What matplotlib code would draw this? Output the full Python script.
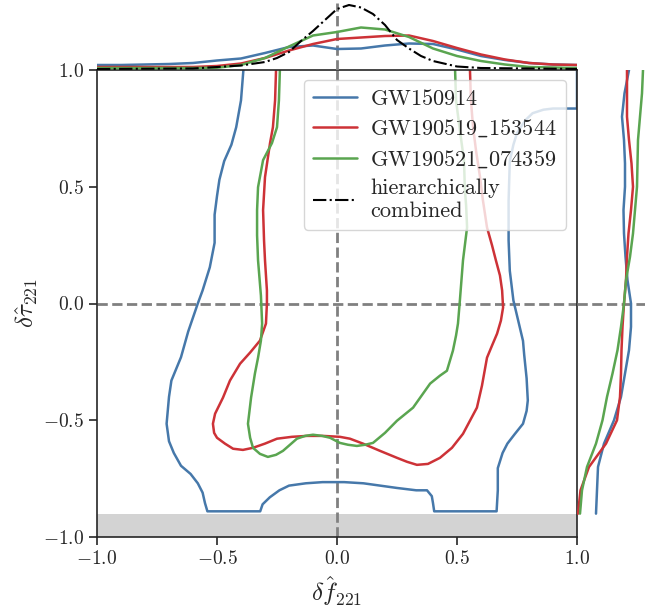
import numpy as np
import matplotlib
matplotlib.use("Agg")
import matplotlib.pyplot as plt

plt.rcParams["font.family"] = "serif"
plt.rcParams["font.serif"] = ["cmr10", "DejaVu Serif"]
plt.rcParams["mathtext.fontset"] = "cm"
plt.rcParams["axes.formatter.use_mathtext"] = True

# colours of the three events + combined
c_blue = "#4678aa"
c_red = "#cd3237"
c_green = "#5aa550"

labels = [r"$\mathrm{GW150914}$",
          r"$\mathrm{GW190519\_153544}$",
          r"$\mathrm{GW190521\_074359}$"]
comb_label = "hierarchically\ncombined"

# 90% contours (df, dtau)
gw150914_f = [-0.39, -0.40, -0.42, -0.44, -0.47, -0.49, -0.50, -0.51, -0.51, -0.53,
              -0.56, -0.58, -0.62, -0.65, -0.69, -0.70, -0.71, -0.70, -0.68, -0.65,
              -0.61, -0.58, -0.56, -0.55, -0.54, -0.32, -0.31, -0.28, -0.24, -0.20,
              -0.13, -0.06, 0.03, 0.11, 0.18, 0.25, 0.33, 0.375, 0.395, 0.40,
              0.405, 0.665, 0.67, 0.67, 0.69, 0.71, 0.74, 0.775, 0.79, 0.795,
              0.79, 0.78, 0.775, 0.76, 0.745, 0.735, 0.72, 0.715, 0.715, 0.72,
              0.735, 0.75, 0.785, 0.815, 0.86, 0.90, 0.95, 1.0, 1.0]
gw150914_t = [1.0, 0.87, 0.755, 0.68, 0.61, 0.53, 0.46, 0.38, 0.26, 0.155,
              0.056, 0.0, -0.12, -0.23, -0.33, -0.40, -0.515, -0.59, -0.64, -0.695,
              -0.73, -0.77, -0.81, -0.855, -0.89, -0.89, -0.86, -0.83, -0.80, -0.78,
              -0.77, -0.765, -0.765, -0.77, -0.78, -0.79, -0.80, -0.80, -0.825, -0.855,
              -0.89, -0.89, -0.80, -0.705, -0.64, -0.60, -0.56, -0.515, -0.46, -0.415,
              -0.32, -0.22, -0.16, -0.095, -0.03, 0.013, 0.14, 0.27, 0.44, 0.61,
              0.68, 0.73, 0.785, 0.815, 0.83, 0.835, 0.835, 0.835, 1.0]

gw190519_f = [-0.254, -0.258, -0.267, -0.279, -0.30, -0.308, -0.304, -0.30, -0.292, -0.292,
              -0.296, -0.321, -0.362, -0.404, -0.446, -0.475, -0.508, -0.517, -0.512, -0.50,
              -0.467, -0.433, -0.392, -0.35, -0.30, -0.25, -0.188, -0.125, -0.058, 0.012,
              0.054, 0.108, 0.179, 0.25, 0.292, 0.333, 0.379, 0.429, 0.479, 0.525,
              0.554, 0.583, 0.604, 0.625, 0.646, 0.667, 0.683, 0.692, 0.688, 0.679,
              0.662, 0.646, 0.625, 0.608, 0.596, 0.579, 0.567, 0.558, 0.554]
gw190519_t = [1.0, 0.87, 0.755, 0.687, 0.541, 0.40, 0.27, 0.185, 0.056, 0.0,
              -0.086, -0.159, -0.21, -0.258, -0.33, -0.403, -0.472, -0.515, -0.554, -0.575,
              -0.60, -0.622, -0.627, -0.618, -0.60, -0.579, -0.571, -0.567, -0.567, -0.571,
              -0.579, -0.60, -0.631, -0.661, -0.678, -0.691, -0.687, -0.661, -0.618, -0.558,
              -0.502, -0.446, -0.352, -0.232, -0.18, -0.129, -0.073, -0.017, 0.056, 0.12,
              0.185, 0.249, 0.326, 0.442, 0.541, 0.657, 0.755, 0.87, 1.0]

gw190521_f = [-0.238, -0.242, -0.25, -0.271, -0.308, -0.329, -0.333, -0.333, -0.329, -0.317,
              -0.312, -0.317, -0.329, -0.342, -0.358, -0.371, -0.362, -0.35, -0.321, -0.288,
              -0.254, -0.225, -0.196, -0.167, -0.133, -0.10, -0.062, -0.029, 0.012, 0.046,
              0.083, 0.117, 0.15, 0.20, 0.25, 0.317, 0.388, 0.429, 0.458, 0.483,
              0.496, 0.504, 0.512, 0.525, 0.542, 0.538, 0.533, 0.529, 0.512, 0.496, 0.492]
gw190521_t = [1.0, 0.87, 0.755, 0.687, 0.614, 0.498, 0.40, 0.292, 0.185, 0.034,
              -0.086, -0.159, -0.232, -0.30, -0.403, -0.515, -0.575, -0.618, -0.644, -0.657,
              -0.648, -0.631, -0.605, -0.579, -0.567, -0.562, -0.567, -0.575, -0.597, -0.605,
              -0.61, -0.605, -0.597, -0.554, -0.502, -0.446, -0.343, -0.309, -0.288, -0.202,
              -0.137, -0.086, 0.013, 0.185, 0.326, 0.42, 0.485, 0.614, 0.742, 0.87, 1.0]

# marginal posteriors on df
f_grid = [-1.0, -0.9, -0.8, -0.7, -0.6, -0.5, -0.4, -0.3, -0.2, -0.1, 0.0,
          0.1, 0.2, 0.3, 0.4, 0.5, 0.6, 0.7, 0.8, 0.9, 1.0]
pf_150914 = [0.16, 0.16, 0.18, 0.20, 0.24, 0.34, 0.42, 0.64, 0.88, 0.94, 0.80,
             0.82, 0.94, 1.02, 1.00, 0.78, 0.52, 0.36, 0.24, 0.18, 0.16]
pf_190519 = [0.08, 0.08, 0.08, 0.08, 0.08, 0.12, 0.22, 0.44, 0.74, 1.00, 1.20,
             1.26, 1.32, 1.34, 1.12, 0.84, 0.58, 0.38, 0.24, 0.18, 0.16]
pf_190521 = [0.04, 0.04, 0.04, 0.04, 0.04, 0.05, 0.16, 0.44, 0.90, 1.34, 1.48,
             1.66, 1.58, 1.28, 0.82, 0.52, 0.32, 0.18, 0.08, 0.06, 0.04]
f_comb = [-1.0, -0.6, -0.4, -0.3, -0.25, -0.2, -0.15, -0.1, -0.05, 0.0, 0.05,
          0.1, 0.15, 0.2, 0.25, 0.3, 0.35, 0.4, 0.5, 0.6, 1.0]
pf_comb = [0.0, 0.02, 0.14, 0.28, 0.44, 0.68, 1.12, 1.52, 1.96, 2.40, 2.56,
           2.46, 2.20, 1.76, 1.16, 0.82, 0.52, 0.32, 0.10, 0.04, 0.0]

# marginal posteriors on dtau
t_grid = [1.0, 0.9, 0.8, 0.7, 0.6, 0.5, 0.4, 0.3, 0.2, 0.1, 0.0,
          -0.1, -0.2, -0.3, -0.4, -0.5, -0.6, -0.7, -0.8, -0.9]
pt_150914 = [0.52, 0.475, 0.45, 0.47, 0.48, 0.48, 0.465, 0.47, 0.485, 0.505, 0.54,
             0.54, 0.52, 0.48, 0.44, 0.37, 0.27, 0.21, 0.20, 0.19]
pt_190519 = [0.50, 0.50, 0.50, 0.52, 0.545, 0.56, 0.54, 0.515, 0.50, 0.49, 0.47,
             0.455, 0.445, 0.44, 0.43, 0.40, 0.29, 0.12, 0.035, 0.01]
pt_190521 = [0.66, 0.65, 0.63, 0.61, 0.605, 0.60, 0.58, 0.56, 0.53, 0.49, 0.47,
             0.44, 0.405, 0.355, 0.30, 0.255, 0.19, 0.10, 0.05, 0.03]

tau_prior_min = -0.9

W, H = 670, 614
fig = plt.figure(figsize=(W / 100, H / 100), dpi=100)
ax = fig.add_axes([97 / W, 1 - 537 / H, 480 / W, 467 / H])
ax_top = fig.add_axes([97 / W, 1 - 70 / H, 480 / W, 67 / H], sharex=ax)
ax_right = fig.add_axes([577 / W, 1 - 537 / H, 68 / W, 467 / H], sharey=ax)

lw = 1.8
dark = "#262626"
kw = dict(lw=lw, solid_joinstyle="round", solid_capstyle="round")

# main panel
ax.axhspan(-1, tau_prior_min, color="lightgray", lw=0, zorder=0)
ax.axvline(0, color="gray", ls="--", lw=2, zorder=1)
ax.axhline(0, color="gray", ls="--", lw=2, zorder=1)
ax.plot(gw150914_f, gw150914_t, color=c_blue, label=labels[0], **kw)
ax.plot(gw190519_f, gw190519_t, color=c_red, label=labels[1], **kw)
ax.plot(gw190521_f, gw190521_t, color=c_green, label=labels[2], **kw)
ax.plot([], [], color="k", ls="-.", lw=1.5, label=comb_label)

ax.set_xlim(-1, 1)
ax.set_ylim(-1, 1)
ax.set_xticks([-1, -0.5, 0, 0.5, 1])
ax.set_yticks([-1, -0.5, 0, 0.5, 1])
ax.tick_params(direction="out", length=6, width=1.2, color=dark,
               labelsize=14, labelcolor=dark)
for s in ax.spines.values():
    s.set_color(dark)
    s.set_linewidth(1.2)
ax.set_xlabel(r"$\delta\hat{f}_{221}$", fontsize=18, color=dark)
ax.set_ylabel(r"$\delta\hat{\tau}_{221}$", fontsize=18, color=dark, labelpad=2)

leg = ax.legend(loc="upper right", bbox_to_anchor=(0.977, 0.979),
                borderaxespad=0, fontsize=16, framealpha=0.8,
                edgecolor="0.8", handlelength=2.0, handletextpad=0.6,
                labelspacing=0.4, borderpad=0.4)
for t in leg.get_texts():
    t.set_color(dark)

# top marginal
ax_top.axvline(0, color="gray", ls="--", lw=2, zorder=1)
ax_top.plot(f_grid, pf_150914, color=c_blue, **kw)
ax_top.plot(f_grid, pf_190519, color=c_red, **kw)
ax_top.plot(f_grid, pf_190521, color=c_green, **kw)
ax_top.plot(f_comb, pf_comb, color="k", ls="-.", lw=1.5)
ax_top.set_ylim(-0.04, 2.64)
ax_top.axis("off")

# right marginal
ax_right.axhline(0, color="gray", ls="--", lw=2, zorder=1)
ax_right.plot(pt_150914, t_grid, color=c_blue, **kw)
ax_right.plot(pt_190519, t_grid, color=c_red, **kw)
ax_right.plot(pt_190521, t_grid, color=c_green, **kw)
ax_right.set_xlim(0, 0.68)
ax_right.axis("off")

fig.savefig("out.png", dpi=100)
